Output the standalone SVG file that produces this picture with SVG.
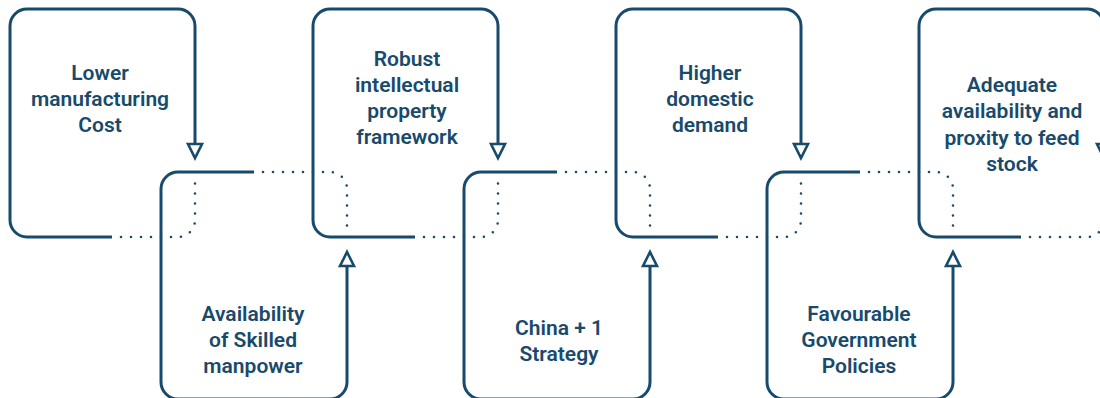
<svg xmlns="http://www.w3.org/2000/svg" width="1100" height="398" viewBox="0 0 1100 398">
<style>
.box{fill:none;stroke:#184a6c;stroke-width:3;stroke-linejoin:round;stroke-linecap:butt}
.dot{fill:none;stroke:#184a6c;stroke-width:2.6;stroke-linecap:round;stroke-dasharray:0 10}
.head{fill:#fff;stroke:#184a6c;stroke-width:2.6;stroke-linejoin:miter}
text{font-family:Roboto,"Liberation Sans",sans-serif;font-size:21px;font-weight:600;fill:#184a6c;text-anchor:middle}
</style>
<rect width="1100" height="398" fill="#fff"/>
<g id="connectors">
<path class="dot" d="M121,237 H178 A17,17 0 0 0 195,220 V182"/>
<path class="dot" d="M424,237 H481 A17,17 0 0 0 498,220 V182"/>
<path class="dot" d="M727,237 H784 A17,17 0 0 0 801,220 V182"/>
<path class="dot" d="M1030,237 H1087 A17,17 0 0 0 1104,220 V182"/>
<path class="dot" d="M263,172 H330 A17,17 0 0 1 347,189 V228"/>
<path class="dot" d="M566,172 H633 A17,17 0 0 1 650,189 V228"/>
<path class="dot" d="M869,172 H936 A17,17 0 0 1 953,189 V228"/>
<polygon class="head" points="188,144 202,144 195,158"/>
<polygon class="head" points="491,144 505,144 498,158"/>
<polygon class="head" points="794,144 808,144 801,158"/>
<polygon class="head" points="1097,144 1111,144 1104,158"/>
<polygon class="head" points="340,266 354,266 347,252"/>
<polygon class="head" points="643,266 657,266 650,252"/>
<polygon class="head" points="946,266 960,266 953,252"/>
</g>
<g id="node-lower-cost">
<path class="box" d="M112,237 H27 A17,17 0 0 1 10,220 V26 A17,17 0 0 1 27,9 H178 A17,17 0 0 1 195,26 V144"/>
<text x="100" y="80">Lower</text>
<text x="100" y="106">manufacturing</text>
<text x="100" y="132">Cost</text>
</g>
<g id="node-ip">
<path class="box" d="M415,237 H330 A17,17 0 0 1 313,220 V26 A17,17 0 0 1 330,9 H481 A17,17 0 0 1 498,26 V144"/>
<text x="407" y="66">Robust</text>
<text x="407" y="92">intellectual</text>
<text x="407" y="118">property</text>
<text x="407" y="144">framework</text>
</g>
<g id="node-demand">
<path class="box" d="M718,237 H633 A17,17 0 0 1 616,220 V26 A17,17 0 0 1 633,9 H784 A17,17 0 0 1 801,26 V144"/>
<text x="710" y="80">Higher</text>
<text x="710" y="106">domestic</text>
<text x="710" y="132">demand</text>
</g>
<g id="node-feedstock">
<path class="box" d="M1021,237 H936 A17,17 0 0 1 919,220 V26 A17,17 0 0 1 936,9 H1087 A17,17 0 0 1 1104,26 V144"/>
<text x="1012" y="92">Adequate</text>
<text x="1012" y="118">availability and</text>
<text x="1012" y="145">proxity to feed</text>
<text x="1012" y="171">stock</text>
</g>
<g id="node-manpower">
<path class="box" d="M254,172 H178 A17,17 0 0 0 161,189 V382 A17,17 0 0 0 178,399 H330 A17,17 0 0 0 347,382 V266"/>
<text x="253" y="321">Availability</text>
<text x="253" y="347">of Skilled</text>
<text x="253" y="373">manpower</text>
</g>
<g id="node-china">
<path class="box" d="M557,172 H481 A17,17 0 0 0 464,189 V382 A17,17 0 0 0 481,399 H633 A17,17 0 0 0 650,382 V266"/>
<text x="559" y="335">China + 1</text>
<text x="559" y="361">Strategy</text>
</g>
<g id="node-policies">
<path class="box" d="M860,172 H784 A17,17 0 0 0 767,189 V382 A17,17 0 0 0 784,399 H936 A17,17 0 0 0 953,382 V266"/>
<text x="859" y="321">Favourable</text>
<text x="859" y="347">Government</text>
<text x="859" y="373">Policies</text>
</g>
</svg>
